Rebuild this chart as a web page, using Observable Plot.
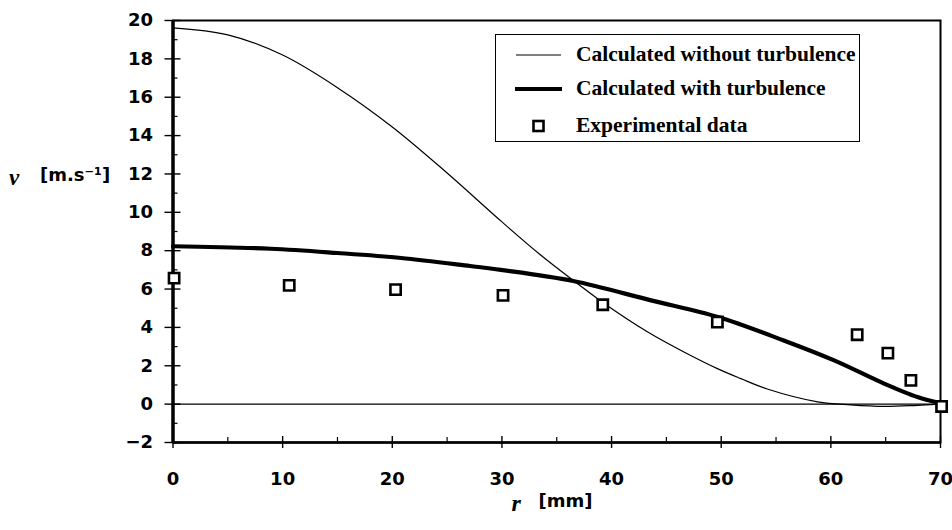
<!DOCTYPE html>
<html>
<head>
<meta charset="utf-8">
<script src="https://cdn.jsdelivr.net/npm/d3@7"></script>
<script src="https://cdn.jsdelivr.net/npm/@observablehq/plot@0.6"></script>
<style>
  html, body { margin: 0; padding: 0; background: white; }
  #wrap { position: relative; width: 952px; height: 530px; }
  .legend { position: absolute; left: 495px; top: 34px; width: 365px; height: 108px;
            border: 1.5px solid black; box-sizing: border-box; background: white;
            font-family: "Liberation Serif", "Times New Roman", serif; font-weight: bold; font-size: 21.5px; color: black; }
  .legend .row { position: absolute; left: 0; height: 30px; width: 100%; }
  .legend .row svg { position: absolute; left: 0; top: 0; }
  .legend .row span { position: absolute; left: 80px; top: 50%; transform: translateY(-50%); white-space: nowrap; line-height: 1; }
</style>
</head>
<body>
<div id="wrap"></div>
<script>
// ---- data ----
const xMajorTicks = [0, 10, 20, 30, 40, 50, 60, 70];
const xMinorTicks = [5, 15, 25, 35, 45, 55, 65];
const yMajorTicks = [-2, 0, 2, 4, 6, 8, 10, 12, 14, 16, 18, 20];
const yMinorTicks = [-1, 1, 3, 5, 7, 9, 11, 13, 15, 17, 19];

// Calculated without turbulence (thin line)
const rThin = [0, 5, 10, 15, 20, 25, 30, 33.5, 36.9, 39.2, 43.3, 46.6, 49.7, 51.8, 54.2, 58.8, 61.8, 64.9, 67.9, 70];
const vThin = [19.62, 19.25, 18.2, 16.5, 14.45, 12.05, 9.5, 7.79, 6.28, 5.3, 3.76, 2.72, 1.84, 1.33, 0.79, 0.12, -0.04, -0.12, -0.06, 0];

// Calculated with turbulence (thick line)
const rThick = [0, 8.9, 15.0, 20.8, 27.1, 29.9, 36.5, 43.6, 49.7, 55.7, 60.3, 64.9, 67.9, 70];
const vThick = [8.23, 8.1, 7.88, 7.62, 7.2, 7.0, 6.42, 5.41, 4.54, 3.32, 2.28, 1.06, 0.37, 0.05];

// Experimental data (squares)
const rExp = [0.1, 10.6, 20.3, 30.1, 39.2, 49.65, 62.4, 65.2, 67.3, 70.1];
const vExp = [6.57, 6.19, 5.97, 5.67, 5.18, 4.28, 3.62, 2.66, 1.24, -0.12];

const legendLabels = ["Calculated without turbulence", "Calculated with turbulence", "Experimental data"];
const yLabelSymbol = "ν";
const yLabelUnit = "[m.s⁻¹]";
const xLabelSymbol = "r";
const xLabelUnit = "[mm]";

// ---- tables ----
const thin = rThin.map((r, i) => ({r, v: vThin[i]}));
const thick = rThick.map((r, i) => ({r, v: vThick[i]}));
const exp = rExp.map((r, i) => ({r, v: vExp[i]}));

const numFont = "'DejaVu Sans', sans-serif";

const chart = Plot.plot({
  width: 952,
  height: 530,
  marginLeft: 172.5,
  marginRight: 12,
  marginTop: 20,
  marginBottom: 88,
  x: {domain: [0, 70]},
  y: {domain: [-2, 20]},
  style: {fontFamily: numFont, fontSize: "18px", fontWeight: "bold", color: "black", background: "white"},
  marks: [
    Plot.frame({strokeWidth: 2}),
    Plot.ruleY([0], {strokeWidth: 1.3}),
    Plot.ruleX([0], {strokeWidth: 3.5}),
    Plot.ruleY([-2], {strokeWidth: 2.5}),
    // y ticks
    Plot.axisY(yMajorTicks, {tickSize: 16, dx: 8, tickFormat: () => "", label: null, strokeWidth: 1.4}),
    Plot.axisY(yMinorTicks, {tickSize: 5, dx: 5, tickFormat: () => "", label: null, strokeWidth: 1.2}),
    Plot.axisY(yMajorTicks, {tickSize: 0, tickPadding: 20, label: null, fontSize: 18, fontWeight: "bold"}),
    // x ticks
    Plot.axisX(xMajorTicks, {tickSize: 12, dy: -6, tickFormat: () => "", label: null, strokeWidth: 1.4}),
    Plot.axisX(xMinorTicks, {tickSize: 5, dy: -5, tickFormat: () => "", label: null, strokeWidth: 1.2}),
    Plot.axisX(xMajorTicks, {tickSize: 0, tickPadding: 30, label: null, fontSize: 18, fontWeight: "bold"}),
    // data
    Plot.line(thin, {x: "r", y: "v", stroke: "black", strokeWidth: 1.2, curve: "catmull-rom"}),
    Plot.line(thick, {x: "r", y: "v", stroke: "black", strokeWidth: 4.2, curve: "catmull-rom"}),
    Plot.dot(exp, {x: "r", y: "v", symbol: "square", r: 5.8, stroke: "black", fill: "white", strokeWidth: 2.6}),
    // axis labels
    Plot.text([yLabelSymbol], {frameAnchor: "top-left", text: d => d, dx: -164, dy: 157, textAnchor: "start", lineAnchor: "middle", fontStyle: "italic", fontSize: 23, fontFamily: "'Liberation Serif', serif", fontWeight: "bold"}),
    Plot.text([yLabelUnit], {frameAnchor: "top-left", text: d => d, dx: -133, dy: 155, textAnchor: "start", lineAnchor: "middle", fontSize: 18, fontWeight: "bold"}),
    Plot.text([xLabelSymbol], {frameAnchor: "bottom-left", text: d => d, dx: 511 - 172.5, dy: 61, textAnchor: "start", lineAnchor: "middle", fontStyle: "italic", fontSize: 24, fontFamily: "'Liberation Serif', serif", fontWeight: "bold"}),
    Plot.text([xLabelUnit], {frameAnchor: "bottom-left", text: d => d, dx: 538 - 172.5, dy: 59, textAnchor: "start", lineAnchor: "middle", fontSize: 18, fontWeight: "bold"})
  ]
});

const wrap = document.getElementById("wrap");
wrap.appendChild(chart);

// legend overlay
const legend = document.createElement("div");
legend.className = "legend";
const rowCenters = [20, 54, 91];
const swatches = [
  `<svg width="80" height="30"><line x1="20" x2="65" y1="15" y2="15" stroke="black" stroke-width="1.2"/></svg>`,
  `<svg width="80" height="30"><line x1="19" x2="66" y1="15" y2="15" stroke="black" stroke-width="4.2"/></svg>`,
  `<svg width="80" height="30"><rect x="37.5" y="10" width="10" height="10" stroke="black" fill="white" stroke-width="2.6"/></svg>`
];
legendLabels.forEach((lab, i) => {
  const row = document.createElement("div");
  row.className = "row";
  row.style.top = (rowCenters[i] - 15) + "px";
  row.innerHTML = swatches[i] + `<span>${lab}</span>`;
  legend.appendChild(row);
});
wrap.appendChild(legend);
</script>
</body>
</html>
